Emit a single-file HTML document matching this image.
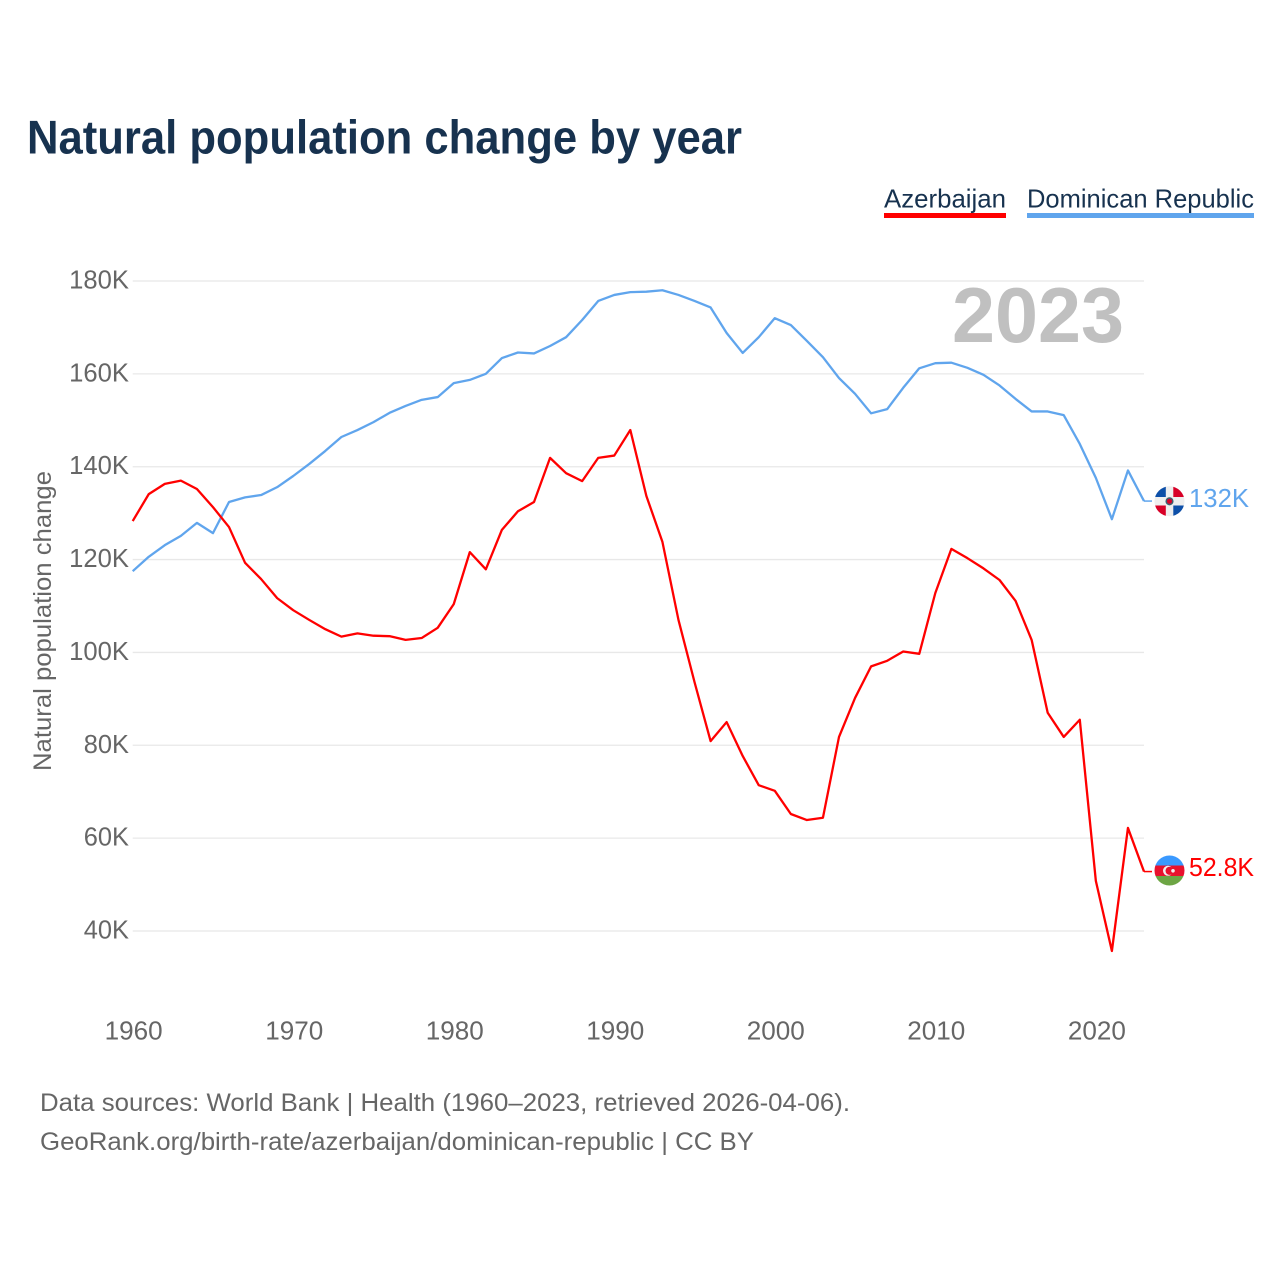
<!DOCTYPE html>
<html lang="en">
<head>
<meta charset="utf-8">
<title>Natural population change by year</title>
<style>
  html, body { margin: 0; padding: 0; background: #fff; }
  svg { display: block; font-family: "Liberation Sans", "DejaVu Sans", sans-serif; }
</style>
</head>
<body>
<svg id="chart" xmlns="http://www.w3.org/2000/svg" width="1280" height="1280" viewBox="0 0 1280 1280">
  <rect width="1280" height="1280" fill="#fff"/>
  <text x="27" y="153.5" font-size="47" font-weight="700" fill="#17324f" textLength="715" lengthAdjust="spacingAndGlyphs">Natural population change by year</text>

  <g>
    <g>
      <text x="884" y="207.5" font-size="26" fill="#17324f" textLength="122" lengthAdjust="spacingAndGlyphs">Azerbaijan</text>
      <rect x="884" y="213" width="122" height="5" fill="#ff0000"/>
    </g>
    <g>
      <text x="1027" y="207.5" font-size="26" fill="#17324f" textLength="227" lengthAdjust="spacingAndGlyphs">Dominican Republic</text>
      <rect x="1027" y="213" width="227" height="5" fill="#60a5ed"/>
    </g>
  </g>

  <g id="grid"></g>
  <g id="yticks"></g>
  <g id="xticks"></g>

  <text x="952" y="342" font-size="78" font-weight="700" fill="#c0c0c0" textLength="172" lengthAdjust="spacingAndGlyphs">2023</text>

  <text transform="translate(51 621) rotate(-90)" text-anchor="middle" font-size="25" fill="#666" textLength="300" lengthAdjust="spacingAndGlyphs">Natural population change</text>

  <g id="series"></g>

  <defs>
    <clipPath id="clip-do"><circle cx="1169.5" cy="501.3" r="15"/></clipPath>
    <clipPath id="clip-az"><circle cx="1169.5" cy="870.5" r="15"/></clipPath>
  </defs>

  <g clip-path="url(#clip-do)">
    <rect x="1154" y="486" width="31" height="31" fill="#eeeeee"/>
    <rect x="1154" y="486" width="11.8" height="11" fill="#0d4fa8"/>
    <rect x="1173.3" y="486" width="12" height="11" fill="#d80027"/>
    <rect x="1154" y="505.5" width="11.8" height="12" fill="#d80027"/>
    <rect x="1173.3" y="505.5" width="12" height="12" fill="#0d4fa8"/>
    <circle cx="1169.5" cy="501.3" r="3.3" fill="#d80027" stroke="#3f5f6f" stroke-width="1.5"/>
  </g>
  <g clip-path="url(#clip-az)">
    <rect x="1154" y="855" width="31" height="10.5" fill="#3a99ff"/>
    <rect x="1154" y="865.5" width="31" height="10.5" fill="#e8112d"/>
    <rect x="1154" y="876" width="31" height="10" fill="#6da544"/>
    <circle cx="1168" cy="870.8" r="5" fill="#f0f0f0"/>
    <circle cx="1169.6" cy="870.8" r="4.1" fill="#e8112d"/>
    <circle cx="1173" cy="870.8" r="1.8" fill="#f0f0f0"/>
  </g>

  <text x="1189" y="507" font-size="25.5" fill="#60a5ed" textLength="60" lengthAdjust="spacingAndGlyphs">132K</text>
  <text x="1189" y="876" font-size="25.5" fill="#ff0000" textLength="65" lengthAdjust="spacingAndGlyphs">52.8K</text>

  <text x="40" y="1111" font-size="25" fill="#666" textLength="810" lengthAdjust="spacingAndGlyphs">Data sources: World Bank | Health (1960–2023, retrieved 2026-04-06).</text>
  <text x="40" y="1150" font-size="25" fill="#666" textLength="714" lengthAdjust="spacingAndGlyphs">GeoRank.org/birth-rate/azerbaijan/dominican-republic | CC BY</text>
</svg>

<script>
const firstYear = 1960;
const lastYear = 2023;
const yTickValues = [40, 60, 80, 100, 120, 140, 160, 180];
const yTickLabels = ["40K", "60K", "80K", "100K", "120K", "140K", "160K", "180K"];
const xTickYears = [1960, 1970, 1980, 1990, 2000, 2010, 2020];
const azerbaijan = [
  128.3, 134.1, 136.3, 137.0, 135.2, 131.3, 127.0, 119.3, 115.8, 111.7,
  109.1, 107.0, 105.0, 103.4, 104.1, 103.6, 103.5, 102.7, 103.1, 105.3,
  110.4, 121.6, 117.9, 126.4, 130.4, 132.4, 141.9, 138.6, 136.9, 141.9,
  142.4, 147.9, 133.7, 123.8, 107.0, 93.6, 80.9, 85.0, 77.7, 71.4,
  70.2, 65.2, 63.9, 64.4, 81.8, 90.2, 97.0, 98.2, 100.2, 99.7,
  112.8, 122.3, 120.3, 118.1, 115.6, 111.1, 102.7, 87.0, 81.8, 85.5,
  50.8, 35.7, 62.2, 52.8
];
const dominicanRepublic = [
  117.5, 120.6, 123.1, 125.1, 127.9, 125.7, 132.4, 133.4, 133.9, 135.6,
  138.0, 140.6, 143.4, 146.4, 147.9, 149.6, 151.6, 153.1, 154.4, 155.0,
  158.0, 158.7, 160.0, 163.4, 164.6, 164.4, 166.0, 167.9, 171.6, 175.7,
  177.0, 177.6, 177.7, 178.0, 177.0, 175.7, 174.3, 168.8, 164.5, 167.9,
  172.0, 170.5, 167.1, 163.6, 159.1, 155.7, 151.5, 152.4, 157.0, 161.2,
  162.3, 162.4, 161.3, 159.8, 157.5, 154.6, 151.9, 151.9, 151.1, 144.9,
  137.6, 128.7, 139.2, 132.6
];

const NS = "http://www.w3.org/2000/svg";
const xLeft = 132.7, xRight = 1144, yTop = 281, yBottom = 931;
const yMaxVal = 180, yMinVal = 40;
const connectorEnd = 1152;

function xScale(year) {
  return xLeft + (year - firstYear) * (xRight - xLeft) / (lastYear - firstYear);
}
function yScale(value) {
  return yTop + (yMaxVal - value) * (yBottom - yTop) / (yMaxVal - yMinVal);
}
function make(tag, attrs, parent, content) {
  const el = document.createElementNS(NS, tag);
  Object.keys(attrs).forEach(function (k) { el.setAttribute(k, attrs[k]); });
  if (content !== undefined) el.textContent = content;
  parent.appendChild(el);
  return el;
}

const gridGroup = document.getElementById("grid");
const yTickGroup = document.getElementById("yticks");
yTickValues.forEach(function (v, i) {
  const line = make("line", { x1: xLeft, x2: xRight, y1: yScale(v), y2: yScale(v), stroke: "#e8e8e8", "stroke-width": 1.3 }, gridGroup);
  
  
  const label = yTickLabels[i];
  const w = (label.length - 1) * 14.6 + 16;
  const t = make("text", {
    x: 129, y: yScale(v) + 7.5, "text-anchor": "end", "font-size": 25.5, fill: "#666",
    textLength: w, lengthAdjust: "spacingAndGlyphs"
  }, yTickGroup, label);
  
  
});

const xTickGroup = document.getElementById("xticks");
xTickYears.forEach(function (yr) {
  const t = make("text", {
    x: xScale(yr) + 1, y: 1039.5, "text-anchor": "middle", "font-size": 25.5, fill: "#666",
    textLength: 58, lengthAdjust: "spacingAndGlyphs"
  }, xTickGroup, String(yr));
  
  
});

const seriesGroup = document.getElementById("series");
function drawSeries(values, color, lineName, connectorName) {
  const pts = values.map(function (v, i) {
    return xScale(firstYear + i).toFixed(2) + "," + yScale(v).toFixed(2);
  }).join(" ");
  const line = make("polyline", { points: pts, fill: "none", stroke: color, "stroke-width": 2.3, "stroke-linejoin": "round" }, seriesGroup);
  
  
  const endY = yScale(values[values.length - 1]);
  const conn = make("line", { x1: xScale(lastYear), x2: connectorEnd, y1: endY, y2: endY, stroke: color, "stroke-width": 1.5 }, seriesGroup);
  
  
}
drawSeries(dominicanRepublic, "#60a5ed", "line-dominican-republic", "connector-dominican-republic");
drawSeries(azerbaijan, "#ff0000", "line-azerbaijan", "connector-azerbaijan");
</script>
</body>
</html>
